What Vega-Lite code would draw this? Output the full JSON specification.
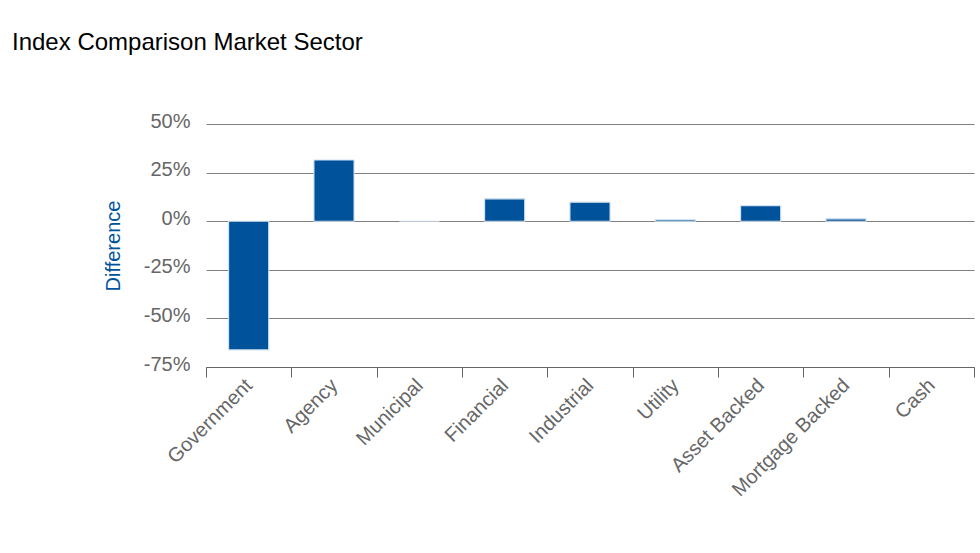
{
  "$schema": "https://vega.github.io/schema/vega-lite/v6.json",
  "autosize": {"type": "none"},
  "width": 768,
  "height": 243,
  "padding": {"left": 206, "top": 124, "right": 6, "bottom": 186},
  "background": "white",
  "title": {
    "text": "Index Comparison Market Sector",
    "anchor": "start",
    "frame": "group",
    "dx": -194,
    "offset": 56,
    "font": "Liberation Sans",
    "fontSize": 24,
    "fontWeight": "normal",
    "color": "#000000"
  },
  "data": {
    "values": [
      {"sector": "Government", "difference": -66.2},
      {"sector": "Agency", "difference": 31.5},
      {"sector": "Municipal", "difference": 0},
      {"sector": "Financial", "difference": 11.5},
      {"sector": "Industrial", "difference": 9.8},
      {"sector": "Utility", "difference": 0.8},
      {"sector": "Asset Backed", "difference": 8.0},
      {"sector": "Mortgage Backed", "difference": 1.2},
      {"sector": "Cash", "difference": null}
    ]
  },
  "mark": {"type": "bar", "color": "#00529B", "stroke": "#d3e2f0", "strokeWidth": 1.1, "width": {"band": 0.47}},
  "encoding": {
    "x": {
      "field": "sector",
      "type": "nominal",
      "sort": null,
      "scale": {
        "domain": ["Government", "Agency", "Municipal", "Financial", "Industrial", "Utility", "Asset Backed", "Mortgage Backed", "Cash"],
        "paddingInner": 0,
        "paddingOuter": 0
      },
      "axis": {
        "title": null,
        "tickBand": "extent",
        "labelAngle": -45,
        "labelAlign": "right",
        "labelBaseline": "middle",
        "labelFont": "Liberation Sans",
        "labelFontSize": 20,
        "labelColor": "#666666",
        "labelPadding": 5,
        "tickSize": 10,
        "tickColor": "#666666",
        "domainColor": "#666666",
        "grid": false
      }
    },
    "y": {
      "field": "difference",
      "type": "quantitative",
      "scale": {"domain": [-75, 50], "nice": false, "zero": false},
      "axis": {
        "title": "Difference",
        "titleFont": "Liberation Sans",
        "titleFontSize": 20,
        "titleFontWeight": "normal",
        "titleColor": "#00529B",
        "titlePadding": 20,
        "values": [-75, -50, -25, 0, 25, 50],
        "labelExpr": "datum.value + '%'",
        "labelFont": "Liberation Sans",
        "labelFontSize": 20,
        "labelColor": "#666666",
        "labelPadding": 16,
        "labelOffset": -3,
        "ticks": false,
        "domain": false,
        "grid": true,
        "gridColor": "#808080",
        "gridWidth": 1.2,
        "gridOpacity": 1
      }
    }
  },
  "config": {
    "view": {"stroke": null}
  }
}
